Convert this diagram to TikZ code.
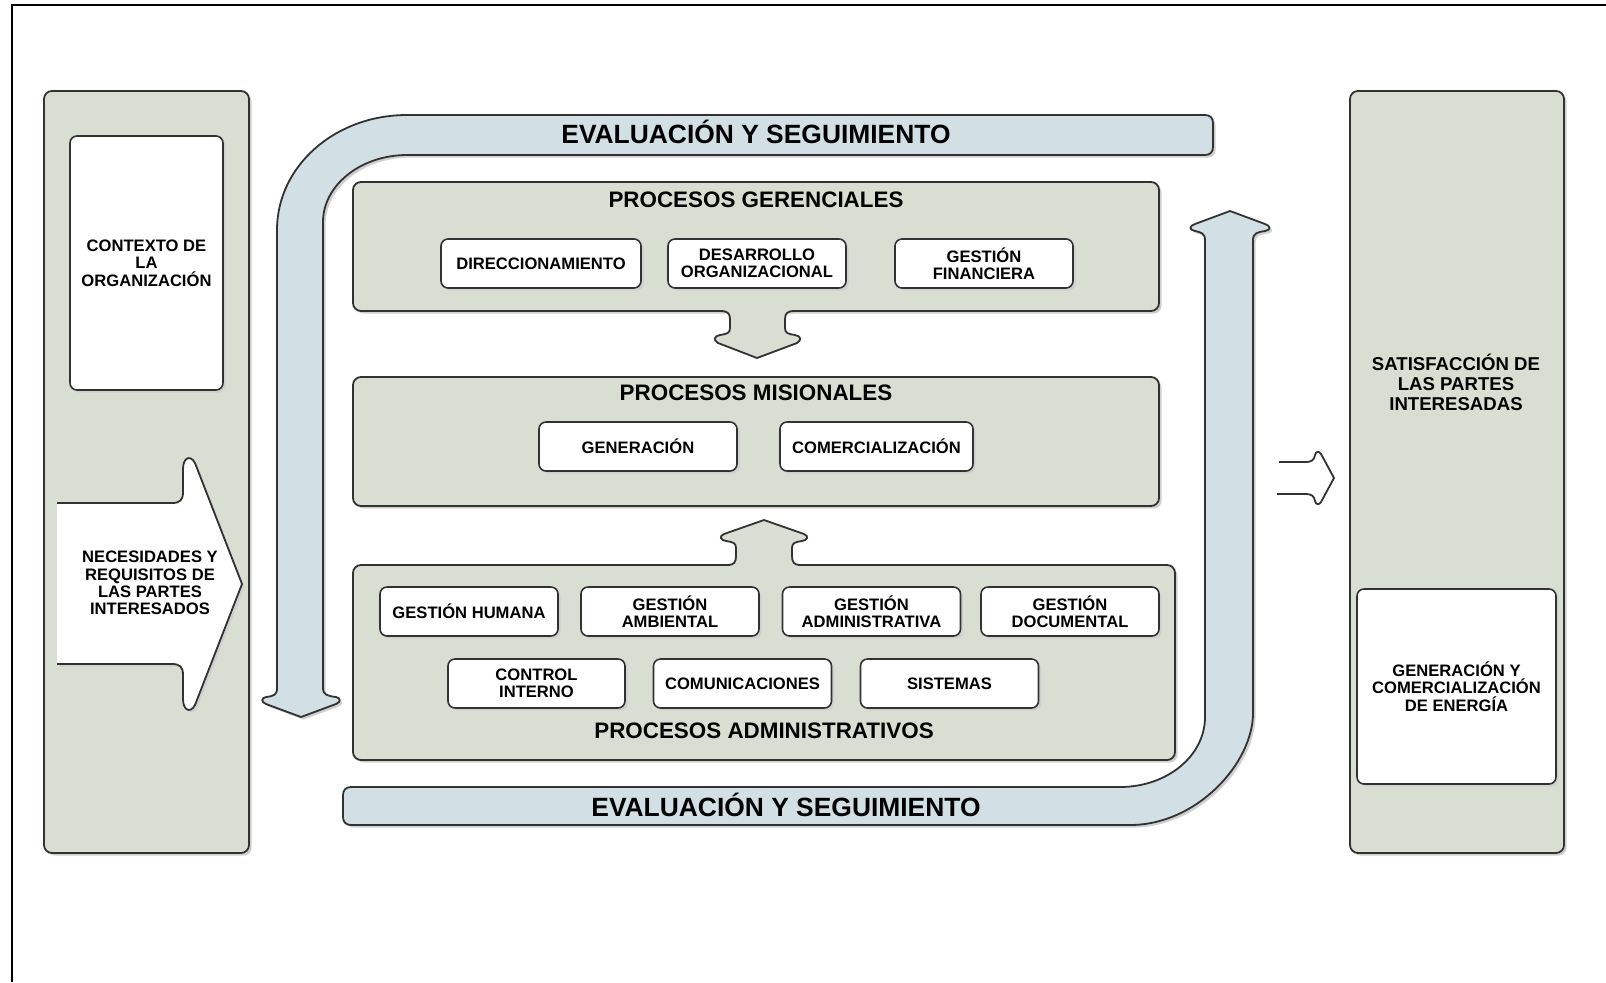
\documentclass[tikz,border=0pt]{standalone}
\usepackage{fontspec}
\setmainfont{Liberation Sans}
\usetikzlibrary{shadows}
\definecolor{sage}{RGB}{217,222,211}
\definecolor{evalblue}{RGB}{210,224,229}
\definecolor{edge}{RGB}{50,50,50}
\definecolor{shade}{RGB}{208,208,208}
\newcommand\myitemfont{\bfseries\fontsize{8.3}{8.7}\selectfont}
\newcommand\mytitlefont{\bfseries\fontsize{11.2}{13}\selectfont}
\newcommand\myevalfont{\bfseries\fontsize{13.2}{15}\selectfont}
\newcommand\mysidefont{\bfseries\fontsize{9.3}{10}\selectfont}
\begin{document}
\begin{tikzpicture}[x=0.5pt,y=-0.5pt,
 shad/.style={general shadow={fill=shade, shadow xshift=1.3pt, shadow yshift=-1.3pt}},
 colbox/.style={draw=edge, line width=0.9pt, fill=sage, rounded corners=4pt, shad, inner sep=0pt},
 procbox/.style={draw=edge, line width=0.9pt, fill=sage, rounded corners=4pt, shad, inner sep=0pt},
 itembox/.style={draw=edge, line width=0.8pt, fill=white, rounded corners=3.5pt, shad, inner sep=0pt, align=center, font=\myitemfont},
 gerbox/.style={itembox, minimum height=24.5pt},
 plaintext/.style={inner sep=0pt, align=center, font=\myitemfont},
 sidetext/.style={inner sep=0pt, align=center, font=\mysidefont},
 titletext/.style={inner sep=0pt, font=\mytitlefont},
 evaltext/.style={inner sep=0pt, font=\myevalfont},
 evalarrow/.style={draw=edge, line width=0.9pt, fill=evalblue, shad},
 blockarrow/.style={draw=edge, line width=0.9pt},
 frameline/.style={draw=black, line width=1.1pt}
]
\useasboundingbox (0,0) rectangle (1606,982);
% frame
\draw[frameline] (12,982) -- (12,5) -- (1606,5);

% left column
\node[colbox, minimum width=102.5pt, minimum height=381pt] (leftcol) at (146.5,472) {};
\node[itembox, minimum width=76.5pt, minimum height=127pt] (contexto) at (146.5,263) {CONTEXTO DE\\LA\\ORGANIZACIÓN};
\draw[blockarrow, fill=white, shad] (57,503) -- (172,503) .. controls (180,503) and (183,500) .. (183,492) -- (183,469)
  .. controls (183,458) and (190,454) .. (195,463) -- (242,584) -- (195,705)
  .. controls (190,714) and (183,710) .. (183,699) -- (183,675) .. controls (183,667) and (180,664) .. (172,664) -- (57,664);
\node[plaintext] (necesidades) at (150,583) {NECESIDADES Y\\REQUISITOS DE\\LAS PARTES\\INTERESADOS};

% right column
\node[colbox, minimum width=107pt, minimum height=381pt] (rightcol) at (1457,472) {};
\node[sidetext] (satisf) at (1456,382) {SATISFACCIÓN DE\\LAS PARTES\\INTERESADAS};
\node[itembox, minimum width=99.5pt, minimum height=97.5pt] (genycom) at (1456.5,686.5) {GENERACIÓN Y\\COMERCIALIZACIÓN\\DE ENERGÍA};

% top evaluation band
\draw[evalarrow] (407,115) -- (1205,115) .. controls (1210,115) and (1213,118) .. (1213,123) -- (1213,147)
  .. controls (1213,152) and (1210,155) .. (1205,155) -- (407,155)
  .. controls (361,155) and (323,185) .. (323,222) -- (323,688)
  .. controls (323,695) and (328,696) .. (336,697) .. controls (341,698) and (341,702) .. (336,704)
  -- (301,717) -- (266,704) .. controls (261,702) and (261,698) .. (266,697)
  .. controls (274,696) and (277,695) .. (277,688) -- (277,230)
  .. controls (277,166) and (335,115) .. (407,115) -- cycle;
\node[evaltext] (evaltop) at (756,132) {EVALUACIÓN Y SEGUIMIENTO};

% bottom evaluation band
\draw[evalarrow] (351,787) -- (1120,787) .. controls (1167,787) and (1205,756) .. (1205,717) -- (1205,240)
  .. controls (1205,233) and (1200,232) .. (1195,231) .. controls (1189,230) and (1189,226) .. (1195,224)
  -- (1230,211) -- (1265,224) .. controls (1271,226) and (1271,230) .. (1265,231)
  .. controls (1258,232) and (1253,233) .. (1253,240) -- (1253,713)
  .. controls (1253,763) and (1197,825) .. (1130,825) -- (351,825)
  .. controls (346,825) and (343,822) .. (343,817) -- (343,795) .. controls (343,790) and (346,787) .. (351,787) -- cycle;
\node[evaltext] (evalbot) at (786,805) {EVALUACIÓN Y SEGUIMIENTO};

% procesos gerenciales
\node[procbox, minimum width=403pt, minimum height=64.5pt] (gerenciales) at (756,246.5) {};
\node[titletext] (tger) at (756,200) {PROCESOS GERENCIALES};
\node[gerbox, minimum width=100pt] (direcc) at (541,263.5) {DIRECCIONAMIENTO};
\node[gerbox, minimum width=89pt] (desarrollo) at (757,263.5) {DESARROLLO\\ORGANIZACIONAL};
\node[gerbox, minimum width=89pt] (financiera) at (984,263.5) {GESTIÓN\\FINANCIERA};

% procesos misionales
\node[procbox, minimum width=403pt, minimum height=64.5pt] (misionales) at (756,441.5) {};
\node[titletext] (tmis) at (756,393) {PROCESOS MISIONALES};
\node[gerbox, minimum width=99pt] (generacion) at (638,446.5) {GENERACIÓN};
\node[gerbox, minimum width=96.5pt] (comercial) at (876.5,446.5) {COMERCIALIZACIÓN};

% procesos administrativos
\node[procbox, minimum width=411pt, minimum height=97.5pt] (administrativos) at (764,662.5) {};
\node[titletext] (tadm) at (764,731) {PROCESOS ADMINISTRATIVOS};
\node[gerbox, minimum width=89pt] (humana) at (469,611.5) {GESTIÓN HUMANA};
\node[gerbox, minimum width=89pt] (ambiental) at (670,611.5) {GESTIÓN\\AMBIENTAL};
\node[gerbox, minimum width=89pt] (administrativa) at (871.5,611.5) {GESTIÓN\\ADMINISTRATIVA};
\node[gerbox, minimum width=89pt] (documental) at (1070,611.5) {GESTIÓN\\DOCUMENTAL};
\node[gerbox, minimum width=88.5pt] (control) at (536.5,683.5) {CONTROL\\INTERNO};
\node[gerbox, minimum width=89pt] (comunic) at (742.5,683.5) {COMUNICACIONES};
\node[gerbox, minimum width=89pt] (sistemas) at (949.5,683.5) {SISTEMAS};

% down arrow gerenciales -> misionales
\fill[sage] (723,305) rectangle (792,312);
\draw[blockarrow, fill=sage] (721,311) .. controls (727,311) and (730,313) .. (730,319) -- (730,328)
  .. controls (730,333) and (727,334) .. (720,335) .. controls (714,336) and (713,340) .. (718,343)
  -- (757,358) -- (797,343) .. controls (802,340) and (801,336) .. (795,335)
  .. controls (788,334) and (785,333) .. (785,328) -- (785,319) .. controls (785,313) and (788,311) .. (794,311);

% up arrow administrativos -> misionales
\fill[sage] (730,564) rectangle (798,570);
\draw[blockarrow, fill=sage] (728,565) .. controls (734,565) and (736,562) .. (736,556) -- (736,548)
  .. controls (736,543) and (733,542) .. (726,541) .. controls (720,540) and (719,536) .. (724,534)
  -- (764,520) -- (804,534) .. controls (809,536) and (808,540) .. (802,541)
  .. controls (795,542) and (792,543) .. (792,548) -- (792,556) .. controls (792,562) and (794,565) .. (800,565);

% right arrow
\draw[blockarrow, fill=white] (1279,462) -- (1305,462) .. controls (1312,462) and (1314,460) .. (1315,455)
  .. controls (1316,451) and (1319,451) .. (1321,454) -- (1334,478) -- (1321,502)
  .. controls (1319,505) and (1316,505) .. (1315,501) .. controls (1314,496) and (1312,494) .. (1305,494) -- (1277,494);
\end{tikzpicture}
\end{document}
